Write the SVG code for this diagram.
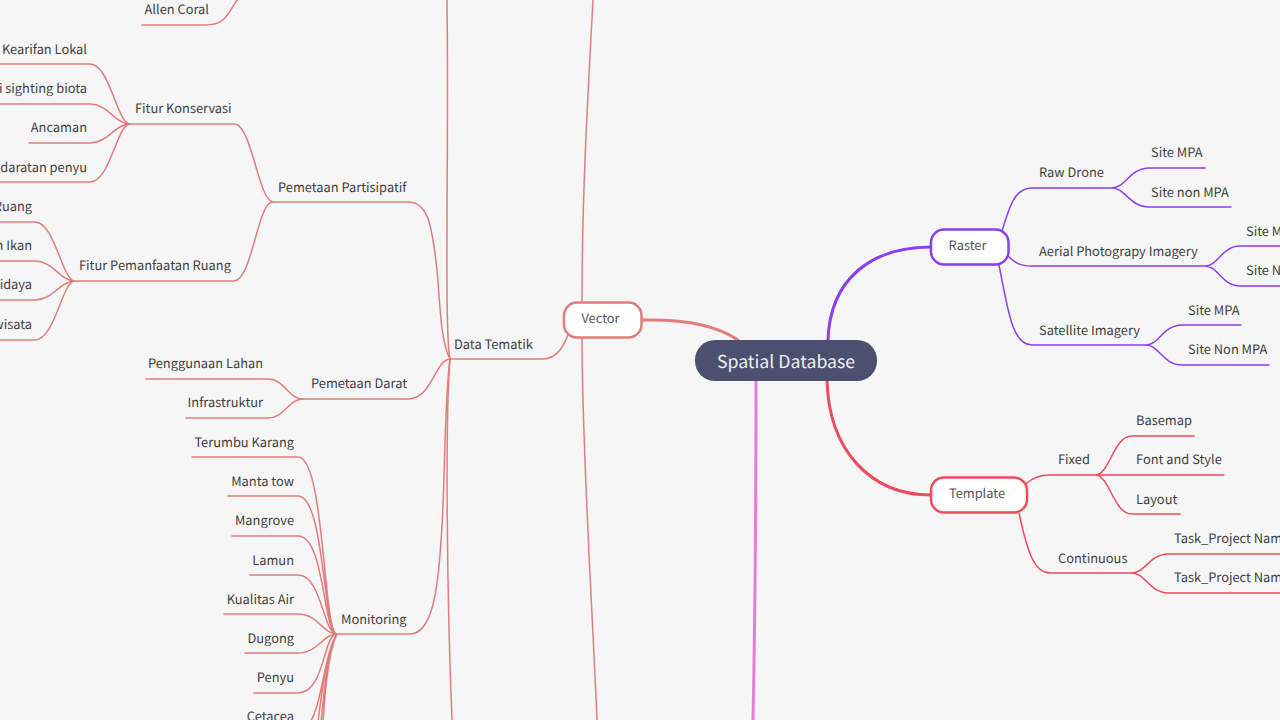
<svg xmlns="http://www.w3.org/2000/svg" width="1280" height="720" viewBox="0 0 1280 720">
<style>
text{font-family:"Noto Sans CJK SC","Noto Sans",sans-serif;font-size:12.85px;fill:#3f3f3f;text-rendering:geometricPrecision}
.e{text-anchor:end}
.c{fill:none;stroke-linecap:round}
.v{stroke:#e27d7d;stroke-width:1.5}
.r{stroke:#8a3ff0;stroke-width:1.5}
.t{stroke:#ee4b5f;stroke-width:1.5}
.box{fill:#fff;stroke-width:2.5}
.tb{fill:#555;text-anchor:middle}
</style>
<rect width="1280" height="720" fill="#f6f6f6"/>
<g id="connectors" class="c">
<path class="v" style="stroke-width:3" d="M642 320C680 319 715 324 738 340"/>
<path stroke="#8a3ff0" stroke-width="3" d="M828 340C830 280 870 247 931 247"/>
<path stroke="#ee4b5f" stroke-width="3" d="M827 381C829 450 870 495 931 495"/>
<path stroke="#ea7ad8" stroke-width="3" d="M756 381C756 500 755 620 753 720"/>
<path class="v" d="M593 0C587 110 582 200 582 302M582 338C582 450 592 600 597 720"/>
<path class="v" d="M568 335C562 350 555 359 542 359L450 359"/>
<path class="v" d="M450 359C444 330 449 150 447 0"/>
<path class="v" d="M450 359C445 420 447 600 452 720"/>
<path class="v" d="M450 359C440 340 440 300 437 270C432 225 428 202 408 202L273 202"/>
<path class="v" d="M450 359C435 360 432 399 408 399L303 399"/>
<path class="v" d="M450 359C444 400 445 500 441 540C438 590 432 634 410 634L338 634"/>
<path class="v" d="M273 202C258 200 252 281 234 281L75 281M273 202C258 200 252 124 234 124L130 124"/>
<path class="v" d="M130 124C117 124 110 64 90 64L0 64M130 124C115 124 108 104 90 104L0 104M130 124C115 124 108 143 90 143L29 143M130 124C117 124 110 182 90 182L0 182"/>
<path class="v" d="M75 281C62 281 55 222 35 222L0 222M75 281C60 281 53 261 35 261L0 261M75 281C60 281 53 300 35 300L0 300M75 281C62 281 55 340 35 340L0 340"/>
<path class="v" d="M237 0C225 20 222 25 205 25L142 25"/>
<path class="v" d="M303 399C288 399 285 379 268 379L146 379M303 399C288 399 285 418 268 418L186 418"/>
<path class="v" d="M337 634C323 634 325 457 298 457L192 457M337 634C323 634 325 496 298 496L228 496M337 634C323 634 325 536 298 536L232 536M337 634C323 634 322 575 298 575L250 575M337 634C323 634 318 614 298 614L224 614M337 634C323 634 318 653 298 653L245 653M337 634C323 634 325 693 298 693L254 693"/>
<path class="v" d="M337 634C325 650 322 705 310 722M337 634C327 650 322 690 318 722M337 634C328 650 324 690 321 722M337 634C329 650 325 690 323 722"/>
<path class="r" d="M1002 231C1010 205 1015 188 1032 188L1112 188M1112 188C1125 188 1130 168 1149 168L1205 168M1112 188C1125 188 1130 207 1149 207L1231 207"/>
<path class="r" d="M1008 256C1015 263 1020 266 1032 266L1205 266M1205 266C1218 266 1222 246 1240 246L1280 246M1205 266C1218 266 1222 286 1240 286L1280 286"/>
<path class="r" d="M999 265C1008 310 1012 345 1032 345L1146 345M1146 345C1159 345 1163 325 1182 325L1241 325M1146 345C1159 345 1163 365 1182 365L1269 365"/>
<path class="t" d="M1026 484C1033 477 1040 475 1050 475L1095 475M1095 475C1110 475 1113 436 1132 436L1194 436M1095 475L1224 475M1095 475C1110 475 1113 514 1132 514L1180 514"/>
<path class="t" d="M1019 513C1028 555 1035 573 1050 573L1132 573M1132 573C1145 573 1150 554 1168 554L1280 554M1132 573C1145 573 1150 593 1168 593L1280 593"/>
</g>
<g id="root"><rect x="695" y="340" width="182" height="41" rx="20" fill="#4c5070"/><text x="786" y="367.500" style="font-size:17.7px;fill:#f0f0f0;text-anchor:middle">Spatial Database</text></g>
<g id="vector"><rect class="box" x="564" y="302.500" width="77.500" height="35" rx="13" stroke="#e27d7d"/><text class="tb" x="600.500" y="323">Vector</text></g>
<g id="raster"><rect class="box" x="931" y="229.500" width="77.500" height="35" rx="13" stroke="#8a3ff0"/><text class="tb" x="967.500" y="250">Raster</text></g>
<g id="template"><rect class="box" x="931" y="477.500" width="96" height="35" rx="13" stroke="#ee4b5f"/><text class="tb" x="977" y="498">Template</text></g>
<g id="data-tematik"><text x="454" y="348.500">Data Tematik</text></g>
<g id="pp"><text x="278" y="191.500">Pemetaan Partisipatif</text></g>
<g id="pd"><text x="311" y="388">Pemetaan Darat</text></g>
<g id="mon"><text x="341" y="624">Monitoring</text></g>
<g id="fk"><text x="135" y="113">Fitur Konservasi</text></g>
<g id="fpr"><text x="79" y="270">Fitur Pemanfaatan Ruang</text></g>
<g id="n1"><text x="209" y="14" class="e">Allen Coral</text></g>
<g id="n2"><text x="87" y="53.500" class="e">Kearifan Lokal</text></g>
<g id="n3"><text x="87" y="93" class="e">i sighting biota</text></g>
<g id="n4"><text x="87" y="132" class="e">Ancaman</text></g>
<g id="n5"><text x="87" y="171.500" class="e">daratan penyu</text></g>
<g id="n6"><text x="32" y="211" class="e">Ruang</text></g>
<g id="n7"><text x="32" y="250" class="e">n Ikan</text></g>
<g id="n8"><text x="32" y="289" class="e">idaya</text></g>
<g id="n9"><text x="32" y="328.500" class="e">wisata</text></g>
<g id="n10"><text x="263" y="368" class="e">Penggunaan Lahan</text></g>
<g id="n11"><text x="263" y="407" class="e">Infrastruktur</text></g>
<g id="n12"><text x="294" y="446.500" class="e">Terumbu Karang</text></g>
<g id="n13"><text x="294" y="486" class="e">Manta tow</text></g>
<g id="n14"><text x="294" y="525" class="e">Mangrove</text></g>
<g id="n15"><text x="294" y="564.500" class="e">Lamun</text></g>
<g id="n16"><text x="294" y="604" class="e">Kualitas Air</text></g>
<g id="n17"><text x="294" y="643" class="e">Dugong</text></g>
<g id="n18"><text x="294" y="682" class="e">Penyu</text></g>
<g id="n19"><text x="294" y="721" class="e">Cetacea</text></g>
<g id="n20"><text x="1039" y="177">Raw Drone</text></g>
<g id="n21"><text x="1151" y="157">Site MPA</text></g>
<g id="n22"><text x="1151" y="196.500">Site non MPA</text></g>
<g id="n23"><text x="1039" y="255.500">Aerial Photograpy Imagery</text></g>
<g id="n24"><text x="1246" y="236">Site MPA</text></g>
<g id="n25"><text x="1246" y="275">Site Non MPA</text></g>
<g id="n26"><text x="1039" y="334.500">Satellite Imagery</text></g>
<g id="n27"><text x="1188" y="314.500">Site MPA</text></g>
<g id="n28"><text x="1188" y="354">Site Non MPA</text></g>
<g id="n29"><text x="1058" y="464">Fixed</text></g>
<g id="n30"><text x="1136" y="425">Basemap</text></g>
<g id="n31"><text x="1136" y="464">Font and Style</text></g>
<g id="n32"><text x="1136" y="503.500">Layout</text></g>
<g id="n33"><text x="1058" y="563">Continuous</text></g>
<g id="n34"><text x="1174" y="543">Task_Project Name</text></g>
<g id="n35"><text x="1174" y="582">Task_Project Name</text></g>
</svg>
